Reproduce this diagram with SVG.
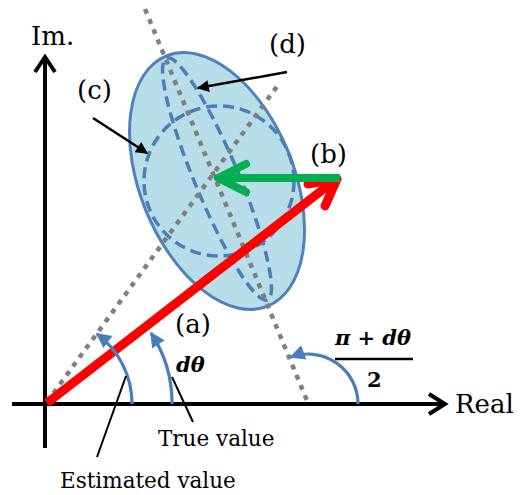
<svg xmlns="http://www.w3.org/2000/svg" width="522" height="495" viewBox="0 0 522 495">
<style>
.lbl{font-family:"DejaVu Serif","Liberation Serif",serif;font-size:26px;fill:#000}
.sm{font-family:"DejaVu Serif","Liberation Serif",serif;font-size:21.5px;fill:#000}
.math{font-family:"DejaVu Serif","Liberation Serif",serif;font-size:21px;font-weight:bold;font-style:italic;fill:#000}
.up{font-style:normal}
.axis{stroke:#000;stroke-width:4;fill:none}
.chev{stroke:#000;stroke-width:4;fill:none;stroke-linejoin:miter}
.dot{stroke:#7f7f7f;stroke-width:4.5;stroke-dasharray:5 6;fill:none}
.dash{stroke:#4a7ebb;stroke-width:3.5;stroke-dasharray:11 6;fill:none}
.arc{stroke:#4a7ebb;stroke-width:3.2;fill:none;marker-end:url(#bh)}
.lead{stroke:#000;stroke-width:2;fill:none}
.ptr{stroke:#000;stroke-width:2.5;fill:none;marker-end:url(#kh)}
</style>
<defs>
<marker id="bh" viewBox="0 0 10 10" refX="9" refY="5" markerUnits="userSpaceOnUse" markerWidth="17" markerHeight="15" orient="auto">
<path d="M0,0 L10,5 L0,10 z" fill="#4a7ebb"/>
</marker>
<marker id="kh" viewBox="0 0 10 10" refX="9" refY="5" markerUnits="userSpaceOnUse" markerWidth="15" markerHeight="12" orient="auto">
<path d="M0,0 L10,5 L0,10 z" fill="#000"/>
</marker>
</defs>
<g id="axes">
<line class="axis" x1="45" y1="448" x2="45" y2="58"/>
<polyline class="chev" points="35,72 45,57 55,72"/>
<line class="axis" x1="12" y1="404" x2="444" y2="404"/>
<polyline class="chev" points="429,394 445,404 429,414"/>
<text class="lbl" x="31" y="45">Im.</text>
<text class="lbl" x="455" y="413">Real</text>
</g>
<g id="ellipse">
<ellipse cx="217" cy="181" rx="77" ry="135" transform="rotate(-22 217 181)" fill="#b7dde8" stroke="#4f81bd" stroke-width="3"/>
<circle class="dash" cx="219" cy="181" r="75"/>
<ellipse class="dash" cx="217" cy="179" rx="22" ry="131" transform="rotate(-22.7 217 179)"/>
</g>
<g id="guides">
<line class="dot" x1="145" y1="9" x2="308" y2="403"/>
<line class="dot" x1="47" y1="402" x2="278" y2="85"/>
</g>
<g id="vector-a">
<line x1="47" y1="403" x2="334" y2="181" stroke="#ff0000" stroke-width="9"/>
<polyline points="308,184 337,179 325,206" stroke="#ff0000" stroke-width="9" fill="none" stroke-linecap="round" stroke-linejoin="round"/>
</g>
<g id="vector-b">
<line x1="340" y1="178" x2="221" y2="178" stroke="#00b050" stroke-width="8"/>
<polyline points="246,164 218,178 246,192" stroke="#00b050" stroke-width="8" fill="none" stroke-linecap="round" stroke-linejoin="round"/>
</g>
<g id="angles">
<path class="arc" d="M132,404 A87,87 0 0 0 97,334"/>
<path class="arc" d="M172,404 A127,127 0 0 0 151,333"/>
<path class="arc" d="M358,404 A50,50 0 0 0 291,357"/>
</g>
<g id="connectors">
<line class="lead" x1="126" y1="376" x2="97" y2="457"/>
<line class="lead" x1="172" y1="377" x2="193" y2="422"/>
<line class="ptr" x1="93" y1="118" x2="147" y2="153"/>
<line class="ptr" x1="287" y1="72" x2="198" y2="88"/>
</g>
<g id="labels">
<text class="lbl" x="175" y="333">(a)</text>
<text class="lbl" x="310" y="163">(b)</text>
<text class="lbl" x="77" y="99">(c)</text>
<text class="lbl" x="269" y="53">(d)</text>
<text class="math" x="176" y="372">dθ</text>
<text class="math" x="335" y="345" textLength="76" lengthAdjust="spacing">π <tspan class="up">+</tspan> dθ</text>
<line x1="335" y1="359" x2="413" y2="359" stroke="#000" stroke-width="2.5"/>
<text class="math up" x="367" y="387">2</text>
<text class="sm" x="158" y="446">True value</text>
<text class="sm" x="60" y="488">Estimated value</text>
</g>
</svg>
